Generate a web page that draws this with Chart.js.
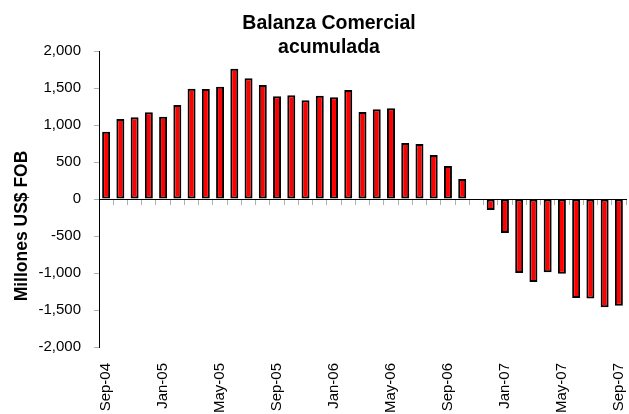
<!DOCTYPE html>
<html>
<head>
<meta charset="utf-8">
<script src="https://cdn.jsdelivr.net/npm/chart.js@4/dist/chart.umd.min.js"></script>
<style>
  html, body { margin: 0; padding: 0; background: #fff; }
  #wrap { width: 629px; height: 414px; }
</style>
</head>
<body>
<div id="wrap"><canvas id="balanza"></canvas></div>
<script>
// Balanza comercial acumulada, millones US$ FOB
const meses = [
    'Sep-04', 'Oct-04', 'Nov-04', 'Dec-04',
    'Jan-05', 'Feb-05', 'Mar-05', 'Apr-05',
    'May-05', 'Jun-05', 'Jul-05', 'Aug-05',
    'Sep-05', 'Oct-05', 'Nov-05', 'Dec-05',
    'Jan-06', 'Feb-06', 'Mar-06', 'Apr-06',
    'May-06', 'Jun-06', 'Jul-06', 'Aug-06',
    'Sep-06', 'Oct-06', 'Nov-06', 'Dec-06',
    'Jan-07', 'Feb-07', 'Mar-07', 'Apr-07',
    'May-07', 'Jun-07', 'Jul-07', 'Aug-07',
    'Sep-07'
];
const balanza = [
    910, 1081, 1104, 1171,
    1113, 1270, 1491, 1486,
    1518, 1761, 1631, 1541,
    1387, 1401, 1333, 1396,
    1374, 1473, 1176, 1212,
    1225, 757, 743, 595,
    446, 270, -12, -149,
    -459, -1000, -1120, -990,
    -1009, -1337, -1344, -1464,
    -1441
];
const yTicks = [-2000, -1500, -1000, -500, 0, 500, 1000, 1500, 2000];
const titulo = ['Balanza Comercial', 'acumulada'];
const tituloEje = 'Millones US$ FOB';

const fuente = "'Liberation Sans', Arial, sans-serif";

// titulo y titulo del eje se dibujan a mano (Excel los deja descentrados)
const textos = {
    id: 'textos',
    afterDraw(chart) {
        const c = chart.ctx;
        c.save();
        c.fillStyle = '#000';
        c.textAlign = 'center';
        c.textBaseline = 'alphabetic';
        c.font = 'bold 19.5px ' + fuente;
        c.fillText(titulo[0], 329, 29);
        c.fillText(titulo[1], 329, 52.5);
        c.translate(27, 226);
        c.rotate(-Math.PI / 2);
        c.font = 'bold 17.5px ' + fuente;
        c.fillText(tituloEje, 0, 0);
        c.restore();
    }
};

const ctx = document.getElementById('balanza').getContext('2d');
new Chart(ctx, {
    type: 'bar',
    data: {
        labels: meses,
        datasets: [
            {
                label: 'Balanza comercial',
                data: balanza,
                backgroundColor: '#ff0000',
                borderColor: '#000000',
                borderWidth: 2,
                borderSkipped: false,
                barPercentage: 0.56,
                categoryPercentage: 1.0
            }
        ]
    },
    options: {
        responsive: true,
        maintainAspectRatio: false,
        animation: false,
        layout: { padding: { top: 51, right: 3, left: 0, bottom: 0 } },
        plugins: {
            legend: { display: false },
            tooltip: { enabled: false }
        },
        scales: {
            x: {
                position: 'bottom',
                offset: true,
                border: { display: false },
                grid: { display: false, drawTicks: false },
                ticks: {
                    autoSkip: false,
                    minRotation: 90,
                    maxRotation: 90,
                    padding: 16,
                    color: '#000',
                    font: { family: fuente, size: 15 },
                    callback: function (v, i) { return i % 4 === 0 ? meses[i] : ''; }
                },
                afterFit: (s) => {
                    s.height = 67;
                    s.paddingLeft = 0;
                    s.paddingRight = 0;
                }
            },
            x2: {
                type: 'category',
                position: { y: 0 },
                offset: true,
                labels: meses,
                border: { display: true, color: '#000', width: 1 },
                grid: {
                    display: true,
                    offset: true,
                    drawOnChartArea: false,
                    drawTicks: true,
                    tickLength: 5,
                    color: '#b0b0b0'
                },
                ticks: { display: false },
                afterFit: (s) => {
                    s.paddingLeft = 0;
                    s.paddingRight = 0;
                }
            },
            y: {
                min: -2000,
                max: 2000,
                afterBuildTicks: (s) => { s.ticks = yTicks.map(v => ({ value: v })); },
                border: { display: true, color: '#000', width: 1 },
                grid: {
                    drawOnChartArea: false,
                    drawTicks: true,
                    tickLength: 5,
                    color: '#b0b0b0'
                },
                ticks: {
                    padding: 13,
                    color: '#000',
                    font: { family: fuente, size: 15 }
                },
                afterFit: (s) => { s.width = 99; }
            }
        }
    },
    plugins: [textos]
});
</script>
</body>
</html>
